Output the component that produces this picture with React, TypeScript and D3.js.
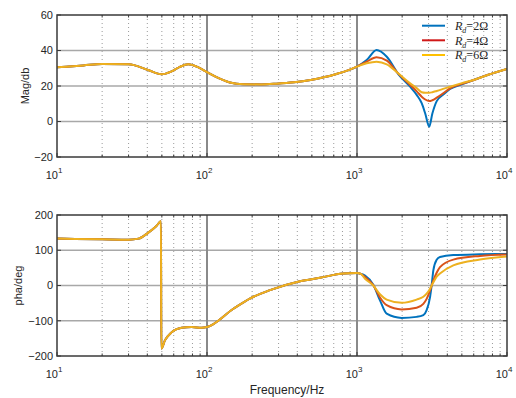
import * as d3 from "d3";

// magnitude (dB) — shared low-frequency part, then one tail per R_d
const magFreqLow = [10, 15, 20, 30, 40, 50, 58, 66, 75, 87, 100, 113, 142, 175, 230, 290, 380, 490, 600, 730, 850, 1000];
const magLow = [30.5, 31.6, 32.4, 32.2, 29.2, 26.6, 28.2, 30.8, 32.2, 30.6, 27.8, 25.4, 22.0, 21.0, 20.9, 21.3, 22.1, 23.4, 24.9, 26.8, 28.5, 30.9];
const magFreqHigh = [1160, 1350, 1580, 1890, 2260, 2500, 2700, 2850, 3030, 3180, 3400, 3800, 4170, 5000, 6000, 7500, 10000];
const magRd2 = [34.6, 40.3, 36.5, 26.6, 19.6, 15.0, 10.3, 4.5, -2.9, 4.5, 11.5, 15.5, 18.3, 21.0, 23.4, 26.3, 29.6];
const magRd4 = [33.7, 36.2, 34.3, 26.8, 20.6, 17.0, 14.0, 12.4, 11.5, 12.0, 13.4, 16.2, 18.7, 21.2, 23.4, 26.3, 29.6];
const magRd6 = [32.8, 33.7, 32.2, 27.0, 21.5, 18.8, 16.5, 16.2, 16.2, 16.5, 17.2, 18.5, 19.6, 21.6, 23.4, 26.3, 29.6];

// phase (deg)
const phaFreqLow = [10, 20, 30, 35, 40.6, 46, 49.3, 49.6, 52.5, 58, 67.7, 79, 92, 100, 150, 193, 260, 417, 566, 810, 1000, 1060];
const phaLow = [133, 131, 130, 133, 150, 169, 182, -179, -155, -133, -120, -118, -120, -118, -66, -37, -14, 12, 22, 34, 35.5, 33];
const phaFreqHigh = [1131, 1284, 1423, 1577, 1985, 2499, 2768, 2913, 3069, 3145, 3228, 3397, 3575, 4385, 6607, 10000];
const phaRd2 = [28, 2, -42, -80, -92, -89, -84, -70, -33, 0, 43, 73, 81, 86.5, 88.5, 89.5];
const phaRd4 = [24, 1, -34, -56, -68, -63, -52, -38, -14, 0, 14, 36, 52, 73.5, 84, 88];
const phaRd6 = [19, 0, -25, -40, -49, -40, -32, -23, -9, 0, 9, 25, 34, 57, 73.5, 82];

const seriesNames = ["2", "4", "6"];
const colors = ["#0072BD", "#D95319", "#EDB120"];
const legendColors = ["#0072BD", "#D01818", "#FFC000"];

const magTicks = [-20, 0, 20, 40, 60];
const phaTicks = [-200, -100, 0, 100, 200];
const decades = [1, 2, 3, 4];

const FONT = "'Liberation Sans', Arial, Helvetica, sans-serif";
const L = 57;
const R = 507;

type Pt = [number, number];

function join(fLow: number[], vLow: number[], fHigh: number[], vHigh: number[]): Pt[] {
  return [...fLow.map((f, i) => [f, vLow[i]] as Pt), ...fHigh.map((f, i) => [f, vHigh[i]] as Pt)];
}

const magSeries = [magRd2, magRd4, magRd6].map((v) => join(magFreqLow, magLow, magFreqHigh, v));
const phaSeries = [phaRd2, phaRd4, phaRd6].map((v) => join(phaFreqLow, phaLow, phaFreqHigh, v));

const x = d3.scaleLog().domain([10, 10000]).range([L, R]);
const minor: number[] = [];
[10, 100, 1000].forEach((d) => {
  for (let k = 2; k <= 9; k++) minor.push(d * k);
});

function fmt(v: number) {
  return v < 0 ? "\u2212" + Math.abs(v) : String(v);
}

function Panel({ top, bottom, domain, ticks, series, label, id, labelX }: {
  top: number; bottom: number; domain: [number, number]; ticks: number[];
  series: Pt[][]; label: string; id: string; labelX: number;
}) {
  const y = d3.scaleLinear().domain(domain).range([bottom, top]);
  const line = d3
    .line<Pt>()
    .x((d) => x(d[0]))
    .y((d) => y(d[1]))
    .curve(d3.curveMonotoneX);
  const axisColor = "#3a3a3a";
  return (
    <g>
      <clipPath id={id}>
        <rect x={L} y={top} width={R - L} height={bottom - top} />
      </clipPath>
      {minor.map((f) => (
        <line key={"m" + f} x1={x(f)} x2={x(f)} y1={top} y2={bottom} stroke="#9a9a9a" strokeWidth={1} strokeDasharray="1,3" />
      ))}
      {ticks.slice(1, -1).map((t) => (
        <line key={"h" + t} x1={L} x2={R} y1={y(t)} y2={y(t)} stroke="#a8a8a8" strokeWidth={1.5} />
      ))}
      {[100, 1000].map((f) => (
        <line key={"v" + f} x1={x(f)} x2={x(f)} y1={top} y2={bottom} stroke="#8a8a8a" strokeWidth={2} />
      ))}
      <g clipPath={`url(#${id})`}>
        {series.map((s, i) => (
          <path key={i} d={line(s) ?? ""} fill="none" stroke={colors[i]} strokeWidth={2} strokeLinejoin="round" />
        ))}
      </g>
      {minor.map((f) => (
        <g key={"mt" + f}>
          <line x1={x(f)} x2={x(f)} y1={bottom} y2={bottom - 2.5} stroke={axisColor} strokeWidth={1} />
          <line x1={x(f)} x2={x(f)} y1={top} y2={top + 2.5} stroke={axisColor} strokeWidth={1} />
        </g>
      ))}
      {ticks.map((t) => (
        <g key={"yt" + t}>
          <line x1={L} x2={L + 4} y1={y(t)} y2={y(t)} stroke={axisColor} strokeWidth={1} />
          <line x1={R} x2={R - 4} y1={y(t)} y2={y(t)} stroke={axisColor} strokeWidth={1} />
          <text x={L - 4} y={y(t)} dy="0.35em" textAnchor="end" fontSize={11} fontFamily={FONT} fill="#262626">
            {fmt(t)}
          </text>
        </g>
      ))}
      {decades.map((e) => (
        <g key={"xt" + e}>
          <line x1={x(10 ** e)} x2={x(10 ** e)} y1={bottom} y2={bottom - 4} stroke={axisColor} strokeWidth={1} />
          <text x={x(10 ** e) - 3} y={bottom + 22} textAnchor="middle" fontSize={11} fontFamily={FONT} fill="#262626">
            10
            <tspan dy={-6} fontSize={8}>{e}</tspan>
          </text>
        </g>
      ))}
      <rect x={L} y={top} width={R - L} height={bottom - top} fill="none" stroke={axisColor} strokeWidth={1.5} />
      <text
        transform={`translate(${labelX},${(top + bottom) / 2}) rotate(-90)`}
        textAnchor="middle"
        dy="0.35em"
        fontSize={11}
        fontFamily={FONT}
        fill="#262626"
      >
        {label}
      </text>
    </g>
  );
}

function Legend() {
  const rows = [25.7, 40.3, 55];
  return (
    <g>
      {seriesNames.map((n, i) => (
        <g key={n}>
          <line x1={422} x2={445} y1={rows[i]} y2={rows[i]} stroke={legendColors[i]} strokeWidth={2} />
          <text x={455} y={rows[i]} dy="0.35em" fontSize={12} fontFamily="'Liberation Serif', 'Times New Roman', serif" fill="#262626">
            <tspan fontStyle="italic">R</tspan>
            <tspan fontStyle="italic" fontSize={8} dy={3}>d</tspan>
            <tspan dy={-3}>={n}Ω</tspan>
          </text>
        </g>
      ))}
    </g>
  );
}

export default function App() {
  return (
    <svg width={516} height={398} style={{ position: "absolute", left: 0, top: 0, background: "#fff" }}>
      <Panel top={15} bottom={157} domain={[-20, 60]} ticks={magTicks} series={magSeries} label="Mag/db" id="clipMag" labelX={25} />
      <Panel top={215} bottom={356} domain={[-200, 200]} ticks={phaTicks} series={phaSeries} label="pha/deg" id="clipPha" labelX={18} />
      <Legend />
      <text x={287} y={390} dy="0.35em" textAnchor="middle" fontSize={12} fontFamily={FONT} fill="#262626">
        Frequency/Hz
      </text>
    </svg>
  );
}
